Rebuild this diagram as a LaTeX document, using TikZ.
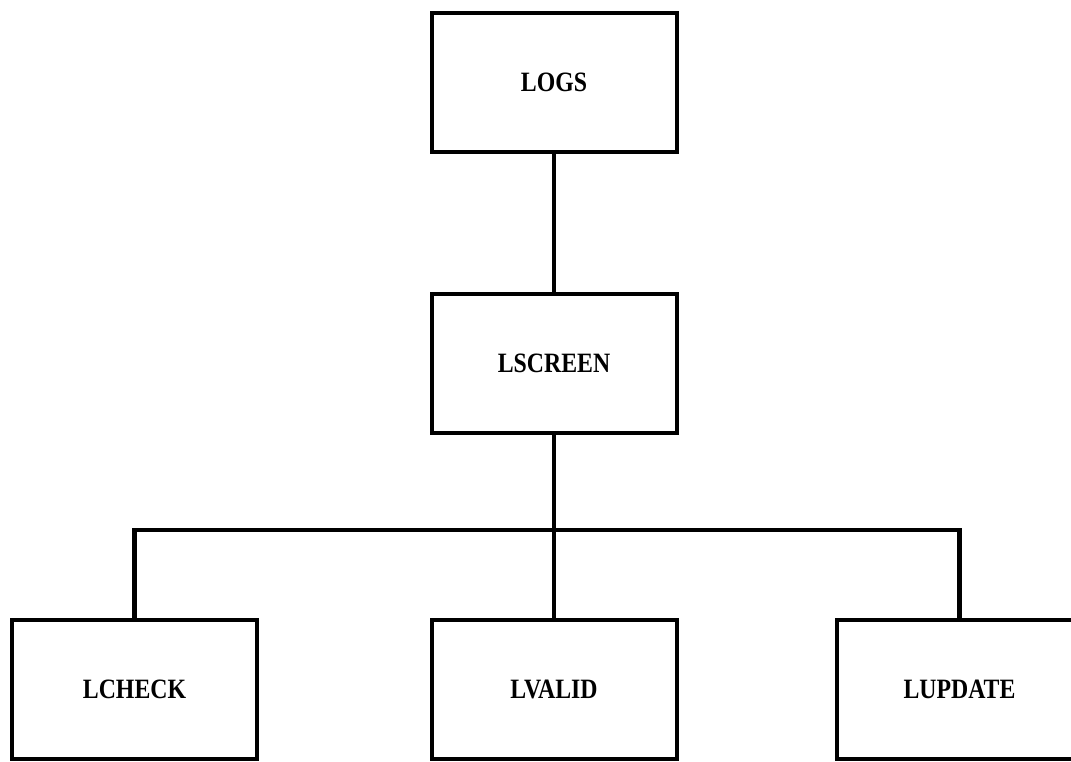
\documentclass[tikz,border=0pt]{standalone}
\usepackage{fontspec}
\setmainfont{Liberation Serif}
\newcommand\boxlbl[1]{\scalebox{0.85}[1]{#1}}
\tikzset{
  modbox/.style={draw, line width=4pt, rectangle, minimum width=245pt, minimum height=139pt, inner sep=0pt,
    font=\fontsize{28}{30}\selectfont\bfseries},
  link/.style={line width=4.5pt}
}
\begin{document}
\begin{tikzpicture}[x=1pt,y=-1pt]
\useasboundingbox (0,0) rectangle (1071,762);
\clip (0,0) rectangle (1071,762);
\fill[white] (0,0) rectangle (1071,762);
\node[modbox] (logs) at (554,82.5) {\boxlbl{LOGS}};
\node[modbox] (lscreen) at (554,363.5) {\boxlbl{LSCREEN}};
\node[modbox] (lcheck) at (134.5,689) {\boxlbl{LCHECK}};
\node[modbox] (lvalid) at (554,689) {\boxlbl{LVALID}};
\node[modbox] (lupdate) at (959.5,689) {\boxlbl{LUPDATE}};
\coordinate (bus) at (554,530);
\draw[link] (logs.south) -- (lscreen.north);
\draw[link] (lscreen.south) -- (lvalid.north);
\draw[link] (lcheck.north) |- (bus) -| (lupdate.north);
\end{tikzpicture}
\end{document}
